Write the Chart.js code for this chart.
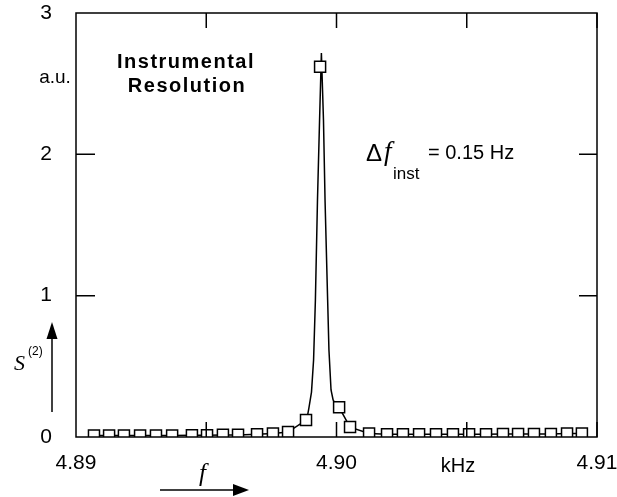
<!DOCTYPE html>
<html>
<head>
<meta charset="utf-8">
<script src="https://cdn.jsdelivr.net/npm/chart.js@4"></script>
<style>
  body { margin: 0; background: #fff; }
  canvas { display: block; }
</style>
</head>
<body>
<canvas id="resChart" width="617" height="497"></canvas>
<script>
// measured points (kHz, a.u.)
const measFreq = [4.89069, 4.89127, 4.89184, 4.89246, 4.89307, 4.89369, 4.89445, 4.89503,
  4.89564, 4.89622, 4.89695, 4.89756, 4.89814, 4.89883, 4.89937, 4.90010, 4.90052,
  4.90125, 4.90194, 4.90255, 4.90317, 4.90382, 4.90447, 4.90509, 4.90574, 4.90639,
  4.90697, 4.90758, 4.90823, 4.90885, 4.90942];
const measValue = [0.01, 0.01, 0.01, 0.01, 0.01, 0.01, 0.012, 0.012,
  0.015, 0.015, 0.02, 0.025, 0.035, 0.12, 2.62, 0.21, 0.07,
  0.025, 0.02, 0.02, 0.02, 0.02, 0.02, 0.02, 0.02, 0.022,
  0.022, 0.022, 0.022, 0.025, 0.025];
const peakIndex = 14;

// fitted line through the peak
const fitFreq = [4.89887, 4.89894, 4.89904, 4.89912, 4.89919, 4.89927, 4.89935, 4.89942,
  4.89950, 4.89956, 4.89966, 4.89971, 4.89979, 4.89987, 4.89998];
const fitValue = [0.134, 0.205, 0.318, 0.545, 0.969, 1.677, 2.243, 2.717,
  2.243, 1.677, 0.969, 0.616, 0.333, 0.262, 0.226];

const xTicks = [4.89, 4.90, 4.91];
const yTicks = [0, 1, 2, 3];

const sans = '"Liberation Sans", Arial, Helvetica, sans-serif';
const serif = '"Liberation Serif", "Times New Roman", serif';

// keep the plot box where the reference has it
function noOverflow(s) {
  s.paddingTop = 0; s.paddingBottom = 0;
  s.paddingLeft = 0; s.paddingRight = 0;
}

// frame, inward ticks, labels and arrows
const decorations = {
  id: 'decorations',
  afterDraw(chart) {
    const ctx = chart.ctx;
    const a = chart.chartArea;
    const xs = chart.scales.x, ys = chart.scales.y;
    ctx.save();
    ctx.strokeStyle = '#000';
    ctx.fillStyle = '#000';
    ctx.lineWidth = 1.5;
    ctx.strokeRect(a.left, a.top, a.right - a.left, a.bottom - a.top);

    ctx.beginPath();
    for (let v = 4.895; v < 4.91; v += 0.005) {
      const px = xs.getPixelForValue(v);
      ctx.moveTo(px, a.top); ctx.lineTo(px, a.top + 15);
      ctx.moveTo(px, a.bottom); ctx.lineTo(px, a.bottom - 15);
    }
    [1, 2].forEach(v => {
      const py = ys.getPixelForValue(v);
      ctx.moveTo(a.left, py); ctx.lineTo(a.left + 19, py);
      ctx.moveTo(a.right, py); ctx.lineTo(a.right - 18, py);
    });
    ctx.stroke();

    ctx.textBaseline = 'middle';
    ctx.textAlign = 'center';
    ctx.font = '19px ' + sans;
    ctx.fillText('a.u.', 55, 78);
    ctx.font = '20px ' + sans;
    ctx.fillText('kHz', 458, 466);

    ctx.font = 'bold 20px ' + sans;
    ctx.letterSpacing = '1.5px';
    ctx.fillText('Instrumental', 186, 62);
    ctx.fillText('Resolution', 187, 86);
    ctx.letterSpacing = '0px';

    // Δf_inst = 0.15 Hz
    ctx.textAlign = 'left';
    ctx.textBaseline = 'alphabetic';
    ctx.font = '24px ' + sans;
    ctx.fillText('\u0394', 366, 161);
    ctx.font = 'italic 27px ' + serif;
    ctx.fillText('f', 384, 160);
    ctx.font = '17px ' + sans;
    ctx.fillText('inst', 393, 179);
    ctx.font = '20px ' + sans;
    ctx.fillText('= 0.15 Hz', 428, 159);

    // S(2) with upward arrow
    ctx.font = 'italic 22px ' + serif;
    ctx.fillText('S', 14, 370);
    ctx.font = '12px ' + sans;
    ctx.fillText('(2)', 28, 355);
    ctx.beginPath();
    ctx.moveTo(52, 412); ctx.lineTo(52, 336);
    ctx.stroke();
    ctx.beginPath();
    ctx.moveTo(52, 322); ctx.lineTo(46.5, 339); ctx.lineTo(57.5, 339);
    ctx.closePath(); ctx.fill();

    // f with arrow to the right
    ctx.font = 'italic 25px ' + serif;
    ctx.fillText('f', 199, 481);
    ctx.beginPath();
    ctx.moveTo(160, 490); ctx.lineTo(236, 490);
    ctx.stroke();
    ctx.beginPath();
    ctx.moveTo(249, 490); ctx.lineTo(233, 484); ctx.lineTo(233, 496);
    ctx.closePath(); ctx.fill();
    ctx.restore();
  }
};

new Chart(document.getElementById('resChart'), {
  type: 'line',
  data: {
    datasets: [{
      label: 'measured',
      data: measFreq.map((f, i) => ({ x: f, y: measValue[i] })),
      borderColor: '#000',
      borderWidth: 1.5,
      backgroundColor: '#fff',
      pointStyle: 'rect',
      pointRadius: 7.8,
      pointBorderWidth: 1.5,
      pointBorderColor: '#000',
      pointBackgroundColor: '#fff',
      tension: 0,
      order: 0,
      segment: {
        borderColor: c => (c.p0DataIndex === peakIndex - 1 || c.p0DataIndex === peakIndex) ? 'transparent' : '#000'
      }
    }, {
      label: 'fit',
      data: fitFreq.map((f, i) => ({ x: f, y: fitValue[i] })),
      borderColor: '#000',
      borderWidth: 1.5,
      pointRadius: 0,
      tension: 0,
      order: 1
    }]
  },
  options: {
    responsive: false,
    animation: false,
    layout: { padding: { top: 13, right: 20, left: 0, bottom: 0 } },
    plugins: { legend: { display: false }, tooltip: { enabled: false } },
    scales: {
      x: {
        type: 'linear',
        min: 4.89, max: 4.91,
        afterFit: s => { s.height = 60; noOverflow(s); },
        afterBuildTicks: s => { s.ticks = xTicks.map(v => ({ value: v })); },
        grid: { display: false },
        border: { display: false },
        ticks: {
          padding: 6,
          color: '#000',
          maxRotation: 0,
          autoSkip: false,
          font: { family: sans, size: 21 },
          callback: v => v.toFixed(2)
        }
      },
      y: {
        min: 0, max: 3,
        afterFit: s => { s.width = 76; noOverflow(s); },
        afterBuildTicks: s => { s.ticks = yTicks.map(v => ({ value: v })); },
        grid: { display: false },
        border: { display: false },
        ticks: {
          padding: 16,
          color: '#000',
          font: { family: sans, size: 21 },
          callback: v => String(v)
        }
      }
    }
  },
  plugins: [decorations]
});
</script>
</body>
</html>
